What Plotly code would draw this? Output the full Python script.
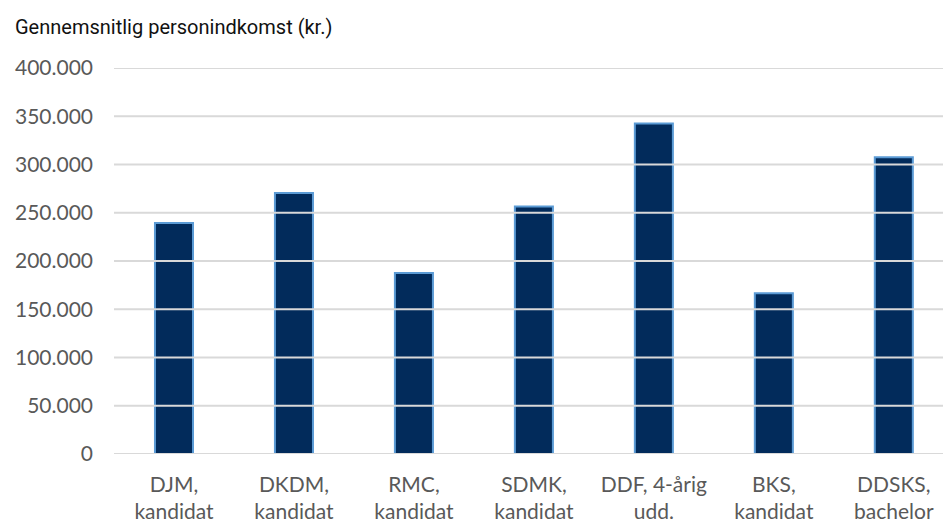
import plotly.graph_objects as go

categories = ["DJM,<br>kandidat", "DKDM,<br>kandidat", "RMC,<br>kandidat", "SDMK,<br>kandidat",
              "DDF, 4-årig<br>udd.", "BKS,<br>kandidat", "DDSKS,<br>bachelor"]
values = [239500, 270500, 187500, 256500, 342500, 166500, 307500]
y_ticks = [0, 50000, 100000, 150000, 200000, 250000, 300000, 350000, 400000]
y_tick_labels = ["0", "50.000", "100.000", "150.000", "200.000", "250.000", "300.000", "350.000", "400.000"]
title_text = "Gennemsnitlig personindkomst (kr.)"

fig = go.Figure()
fig.add_trace(go.Bar(
    x=list(range(len(categories))),
    y=values,
    width=0.317,
    marker=dict(color="#022b5b", line=dict(color="#5b9bd5", width=2)),
))

# gridlines drawn above the bars, as in the reference
for yv in y_ticks:
    fig.add_shape(type="line", xref="paper", x0=0, x1=1, yref="y", y0=yv, y1=yv,
                  line=dict(color="#d9d9d9", width=2), layer="above")

fig.update_layout(
    width=943, height=524,
    margin=dict(l=114, r=0, t=68, b=70),
    paper_bgcolor="white", plot_bgcolor="white",
    showlegend=False,
    font=dict(family="Lato, sans-serif", color="#595959", size=21),
    annotations=[dict(
        text=title_text, xref="paper", yref="paper", x=(13 - 114) / 829, y=1 + 27 / 386,
        xanchor="left", yanchor="bottom", showarrow=False,
        font=dict(family="Roboto, sans-serif", size=20, color="#111111"),
    )],
)

fig.update_xaxes(
    tickmode="array", tickvals=list(range(len(categories))), ticktext=categories,
    range=[-0.5, 6.41], showgrid=False, zeroline=False, showline=False,
    ticks="", ticklabelstandoff=16, tickfont=dict(size=21, color="#595959"),
)
fig.update_yaxes(
    range=[0, 400000], tickmode="array", tickvals=y_ticks, ticktext=y_tick_labels,
    showgrid=False, zeroline=False, showline=False,
    ticks="", ticklabelstandoff=20,
    tickfont=dict(size=21, color="#595959"),
)

fig.write_html("out.html", config={"displayModeBar": False},
               post_script="document.body.style.margin='0';document.body.style.overflow='hidden';")
